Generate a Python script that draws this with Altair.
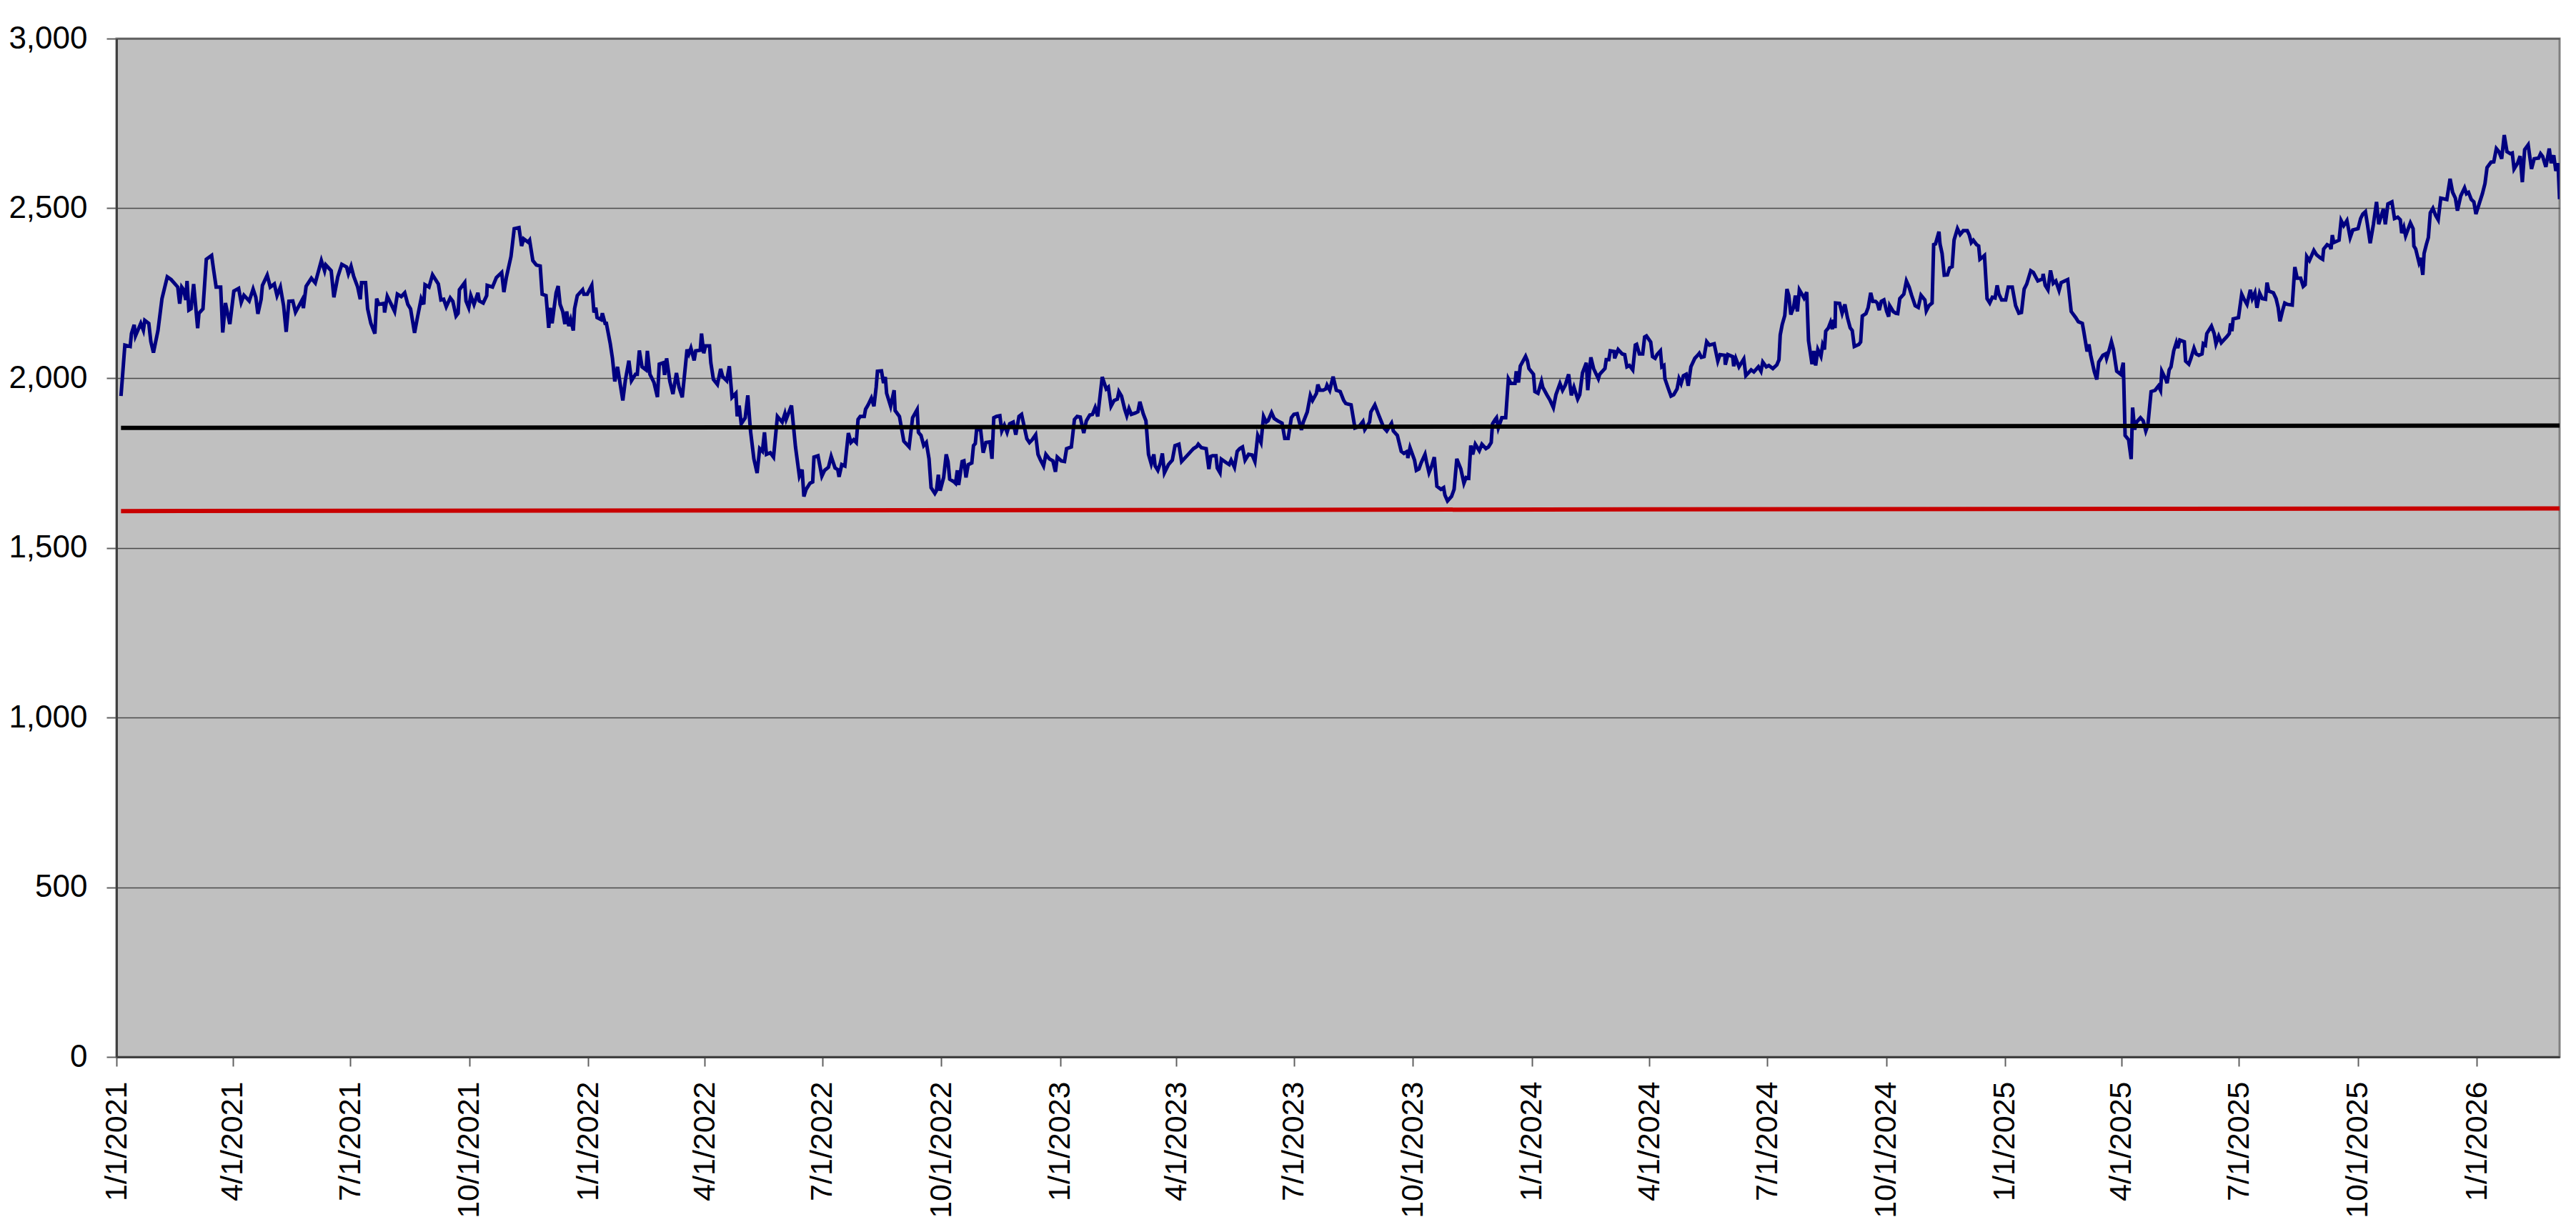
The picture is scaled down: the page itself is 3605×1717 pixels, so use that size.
import altair as alt
import pandas as pd

# (day offset from 2021-01-01, value), in six stretches
seg1 = [(3.5,1947),(6.5,2097),(10.6,2093),(11.6,2131),(13.7,2157),(14.7,2124),(18.8,2161),(20.8,2141),
        (21.9,2170),(25,2161),(26.6,2107),(28.6,2075),(32.1,2140),(35.2,2234),(39.3,2298),(42.3,2290),
        (47.4,2268),(48.9,2219),(50.5,2268),(52,2260),(53.6,2230),(54.6,2286),(56,2200),(57.7,2204),
        (59.7,2277),(62.8,2147),(63.8,2191),(66.9,2204),(69.5,2350),(73.6,2361),(75.1,2320),(77.1,2268),
        (80.6,2268),(82.2,2134),(84.3,2221),(87.7,2159),(90.8,2256),(94.5,2264),(96.5,2223),(98.6,2244),
        (102.7,2227),(105.7,2262),(107.8,2238),(109.4,2189),(111.9,2232),(112.9,2273),(116.6,2303),
        (119,2268),(122.1,2277),(124.2,2243),(126.8,2268),(129.3,2213),(131.3,2136),(133.4,2226),
        (136.4,2227),(138.5,2194),(143.6,2230),(144.6,2206),(146.7,2270),(150.8,2294),(153.8,2280),
        (158.5,2346),(161,2316),(162,2333),(166.1,2316),(168.2,2238),(171.2,2298),(174.3,2335),
        (178,2327),(179.4,2307),(181.5,2329),(183.5,2300),(186.6,2268),(188.6,2232),(189.6,2281),
        (192.7,2281),(194.3,2204),(196.8,2161),(199.9,2131),(201.3,2234),(202.9,2217),(207,2220),
        (207.4,2193),(209.5,2241),(212.1,2221),(215.2,2196),(217.3,2247),(220.3,2240),(223,2251),
        (225.4,2217),(227.5,2204),(230.6,2133),(232.6,2174),(235.7,2234),(237.7,2217),(238.7,2275),
        (241.8,2268),(244.5,2304),(249,2277),(251,2230),(253.1,2232),(255.1,2210),(258.2,2236),
        (260.2,2226),(262.7,2183),(264.3,2191),(265.3,2260),(269.4,2281),(270.4,2227),(272.5,2207),
        (274.1,2243),(276.6,2217),(279.6,2251),(280.7,2227),(283.7,2221),(286.4,2243),(286.8,2273),
        (290.9,2268),(293.9,2296),(298,2311),(299.7,2253),(301.7,2298),(305.2,2358),(307.7,2440),
        (311.4,2443),(313.4,2389),(315,2410),(318.5,2400)]

seg2 = [(319.6,2406),(322.1,2346),(324.8,2333),(327.8,2330),(329.3,2247),(332.3,2243),(334.4,2148),
        (335.6,2207),(337,2161),(340.1,2251),(341.7,2271),(343.2,2217),(345.2,2196),(346.9,2159),
        (348.3,2196),(349.9,2153),(351.4,2172),(353.4,2140),(354.4,2204),(356.5,2243),(360.6,2260),
        (361.6,2247),(364.2,2247),(367.7,2273),(369.4,2193),(370.8,2207),(371.8,2178),(374.9,2172),
        (375.9,2191),(378,2161),(379,2161),(382,2101),(383.7,2058),(385.5,1990),(387.6,2033),
        (389.2,1994),(391.7,1934),(393.7,1994),(396.4,2051),(398.4,1992),(401.5,2011),(402.9,2011),
        (404.5,2081),(406.6,2033),(409.7,2024),(410.7,2080),(412.7,2011),(415.8,1987),(418.5,1944),
        (419.9,2041),(423,2045),(424,2009),(425.6,2058),(428.1,1990),(430.5,1953),(433.2,2015),
        (435.2,1973),(437.7,1943),(441.4,2084),(442.8,2071),(444.4,2088),(446.9,2052),(448.1,2080),
        (451.6,2082),(452.6,2131),(454.3,2073),(455.7,2095),(458.8,2095),(459.8,2045),(461.8,1996),
        (464.9,1981),(467.4,2027),(469,2004),(472.1,1992),(474.1,2035),(476.2,1943),(479.2,1955),
        (480.2,1887),(481.7,1919),(483.3,1865),(486.4,1883),(488.4,1949),(490.5,1844),(493.1,1762),
        (495.6,1720),(497.6,1792),(499.7,1784),(501.3,1840),(502.8,1775),(505.8,1780),(508.3,1767),
        (511.3,1887),(515,1870),(517.1,1895),(518.1,1878),(522.2,1919),(525.3,1797),(528.3,1711),
        (530.4,1730),(531.8,1651),(533.5,1672),(536.5,1690),(538.6,1694),(539.6,1767),(542.7,1771),
        (545.7,1711),(547.8,1728),(550.8,1737),(552.9,1769),(555.9,1735),(558,1730),(559,1709),
        (561.1,1745),(563.5,1741),(566.2,1838),(568.2,1810),(570.3,1818),(572.3,1810),(573.7,1878),
        (575.4,1887),(578.5,1887),(579.5,1908),(581.5,1921),(584,1941),(586,1917),(587.7,1973),
        (588.7,2020),(591.8,2021),(593.4,1985),(594.8,2003),(595.8,1955),(598.9,1917),(601.6,1964),
        (602.4,1904),(605.7,1887),(609.1,1814),(613.2,1797),(615.9,1883),(619.4,1907),(620.4,1840),
        (622.4,1831),(624.5,1801),(626.5,1810),(628.6,1762),(630.2,1677),(633.1,1660),(634.3,1668)]

seg3 = [(635.8,1715),(637.2,1668),(639.9,1707),(641.9,1775),(643.3,1754),(644.6,1702),(648,1694),
        (649.1,1690),(650.5,1728),(651.5,1685),(654.2,1754),(655.6,1756),(657.2,1707),(658.9,1745),
        (661.7,1750),(663,1801),(664.4,1807),(665.4,1848),(668.5,1848),(670.5,1780),(672.6,1810),
        (675.7,1812),(677.3,1762),(678.7,1883),(680.8,1887),(683.4,1889),(684.9,1844),(686.9,1861),
        (689,1840),(691,1865),(693.7,1870),(695.7,1833),(698.2,1887),(700.2,1893),(704.3,1821),
        (706.3,1810),(708.4,1818),(711.1,1833),(712.9,1775),(714.9,1758),(717.2,1741),(719,1775),
        (721.7,1762),(724.4,1756),(726.4,1724),(727.8,1767),(730.9,1756),(733.4,1754),(735,1792),
        (738.7,1797),(741.1,1878),(743.2,1887),(745.6,1885),(748.3,1838),(750.3,1874),(753,1891),
        (755,1893),(757.1,1913),(759.1,1887),(762.6,2003),(765.7,1968),(767.3,1973),(769.4,1917),
        (771.8,1934),(774.3,1938),(775.5,1960),(777.5,1947),(780,1908),(781.6,1889),(783.3,1910),
        (785.1,1893),(788.2,1897),(790.2,1901),(791.7,1930),(794.3,1895),(796.4,1874),(798.4,1775),
        (800.5,1747),(802.5,1775),(803.5,1741),(805.6,1728),(807.6,1750),(809.1,1778),(810.7,1721),
        (813.8,1745),(816.8,1758),(818.9,1801),(821.9,1805),(824,1754),(829.1,1775),(831.2,1784),
        (833.2,1792),(835.7,1798),(836.9,1805),(839.3,1795),(843,1792),(845.1,1732),(846.5,1769),
        (847.9,1771),(850.6,1771),(851.6,1735),(853.7,1721),(854.7,1761),(858.8,1750),(860.8,1745),
        (862.3,1758),(864.9,1737),(867,1784),(869,1792),(871.1,1797),(873.1,1758),(875.8,1775),
        (878.6,1773),(880.7,1754),(882.9,1831),(885.4,1810),(887.4,1887),(889.5,1870),(890.9,1874),
        (893.6,1898),(895.6,1881),(898.3,1874),(901.7,1867),(903.8,1822),(906.4,1822),(908.9,1883),
        (910.9,1893),(913.4,1895),(916.7,1847),(918.1,1870),(921.2,1900),(923.6,1949),(925.3,1934),
        (928.3,1955),(929.4,1981),(931,1964),(933.5,1964),(935.5,1968),(936.5,1979),(938.6,1964),
        (941.2,2004),(943.7,1964),(946.7,1960),(949.4,1934)]

seg4 = [(951,1925),(955.1,1921),(958.1,1853),(961.2,1857),(964.3,1872),(965.7,1848),(969.4,1870),
        (970.4,1900),(973.5,1921),(976.5,1891),(979.6,1861),(980.6,1853),(982.7,1844),(986.4,1867),
        (987.8,1844),(990.9,1831),(993.9,1784),(996,1778),(998.6,1784),(999,1764),(1000.7,1795),
        (1004.2,1758),(1005.6,1728),(1007.6,1732),(1009.3,1750),(1012.3,1775),(1013.4,1754),
        (1015.4,1721),(1017.5,1741),(1019.5,1767),(1021.5,1681),(1024.6,1672),(1026.7,1677),
        (1027.7,1655),(1029.7,1638),(1032.8,1651),(1034.8,1672),(1036.9,1762),(1040,1732),
        (1042.4,1690),(1044.1,1707),(1046.1,1705),(1047.7,1801),(1049.2,1775),(1051.2,1805),
        (1054.3,1786),(1056.3,1805),(1059.4,1792),(1061.4,1797),(1063.5,1810),(1064.5,1865),
        (1066.6,1878),(1067.6,1883),(1069,1853),(1071.7,1883),(1074.7,1883),(1076.8,1998),
        (1078.8,1984),(1081.9,1984),(1082.9,2020),(1084.6,1987),(1086,2035),(1090.1,2064),
        (1091.5,2051),(1092.7,2028),(1096.2,2011),(1097.3,1960),(1099.7,1955),(1102.4,1990),
        (1103.4,1973),(1106.5,1951),(1109.1,1934),(1111.6,1913),(1113.6,1951),(1116.7,1984),
        (1118.7,1964),(1120.8,1979),(1123.4,2011),(1125.5,1949),(1127.5,1973),(1130.4,1938),
        (1132,1951),(1134.1,2015),(1137.1,2045),(1138.2,1964),(1140.6,2061),(1142.7,2028),
        (1146.4,1998),(1147.4,2011),(1151.5,2028),(1152.5,2054),(1154.5,2054),(1155.6,2080),
        (1158.6,2078),(1159,2058),(1161.7,2084),(1164.8,2071),(1166.8,2069),(1168.5,2033),
        (1170.5,2037),(1173,2024),(1175,2097),(1176,2099),(1178.1,2071),(1180.7,2071),(1182.2,2121),
        (1183.6,2124),(1186.9,2106),(1188.3,2063),(1190.3,2058),(1191.8,2069),(1194.4,2080),
        (1195.5,2033),(1197.1,2037),(1197.9,1998),(1200.6,1968),(1202.6,1947),(1204.7,1951),
        (1207.3,1968),(1208.8,1998),(1210.4,1984),(1212.2,2007),(1214.3,2011),(1215.9,1977),
        (1218,2033),(1221,2058),(1223.7,2069),(1224.5,2073),(1226.1,2061),(1228.2,2063),
        (1230.2,2107),(1232.3,2097),(1236,2101),(1238.8,2050),(1240.5,2069),(1244.2,2067),
        (1244.6,2039),(1246.6,2069),(1250.3,2063),(1251.1,2035),(1252.7,2058),(1255.2,2033),
        (1258.9,2056),(1260.5,2007),(1264.6,2024)]

seg5 = [(1266.7,2018),(1270.2,2033),(1272.2,2020),(1273.6,2047),(1276.3,2033),(1278.3,2037),
        (1281.4,2028),(1284.5,2039),(1286.1,2054),(1287.1,2127),(1288.6,2157),(1290.6,2184),
        (1292.3,2262),(1293.7,2243),(1295.3,2187),(1297.4,2208),(1298.8,2243),(1300.4,2196),
        (1301.9,2260),(1303.9,2247),(1305.5,2236),(1307.6,2253),(1309,2110),(1311.7,2041),
        (1313.1,2080),(1314.5,2037),(1316.2,2084),(1318.6,2064),(1319.9,2097),(1321.3,2084),
        (1322.3,2138),(1324.4,2148),(1326,2164),(1327.4,2144),(1328.5,2172),(1329.5,2147),
        (1329.9,2221),(1333,2220),(1335,2191),(1337.1,2217),(1339.1,2178),(1341.2,2148),
        (1342.8,2140),(1344.4,2093),(1347.9,2099),(1349.3,2106),(1350.6,2183),(1353.4,2190),
        (1355.1,2207),(1357.1,2251),(1358.7,2226),(1360.8,2226),(1362.2,2221),(1363.7,2200),
        (1365.3,2226),(1367.3,2230),(1369.4,2197),(1371,2181),(1371.8,2213),(1374.5,2196),
        (1376.5,2191),(1378,2190),(1379.6,2234),(1382.7,2247),(1384.7,2286),(1386.8,2268),
        (1388.8,2243),(1391.5,2213),(1393.9,2208),(1396,2244),(1399,2230),(1400.1,2198),
        (1402.1,2213),(1404.6,2221),(1405.8,2393),(1407.2,2395),(1409.9,2431),(1410.7,2395),
        (1412.3,2367),(1414,2303),(1416.4,2304),(1418.1,2324),(1420.1,2328),(1421.6,2407),
        (1424.2,2440),(1426.3,2423),(1428.7,2434),(1431.8,2434),(1433.4,2421),(1434.9,2399),
        (1436.5,2406),(1439,2393),(1440.6,2389),(1441.6,2350),(1443,2354),(1445.1,2361),
        (1447.1,2234),(1449.2,2221),(1451.2,2238),(1453.3,2236),(1454.9,2273),(1456.3,2247),
        (1458.4,2230),(1461.5,2230),(1463.5,2268),(1466.6,2268),(1469.2,2213),(1471.7,2191),
        (1473.7,2193),(1475.8,2262),(1477.8,2277),(1480.9,2316),(1482.9,2311),(1486.4,2286),
        (1490.1,2292),(1490.5,2307),(1492.1,2273),(1494.2,2260),(1496.2,2317),(1498.3,2279),
        (1500.3,2286),(1502.8,2258),(1504.4,2281),(1509.5,2290),(1512.2,2196),(1515.7,2178),
        (1517.7,2166),(1520.8,2161),(1521.8,2140),(1524.5,2078),(1525.9,2099),(1527.3,2067),
        (1530,2020),(1532,1996),(1533.5,2047),(1536.7,2067),(1538.8,2071),(1539.6,2058),
        (1541.7,2084),(1543.3,2107),(1544.9,2084),(1547.4,2020),(1550.5,2011),(1552.5,2045),
        (1553.9,1831),(1556.6,1818),(1558.6,1761),(1559.7,1913),(1561.3,1848),(1562.7,1870),
        (1565.8,1883),(1567.9,1874),(1569.9,1844),(1571.5,1861),(1574,1960),(1577.1,1964),
        (1579.7,1977)]

seg6 = [(1581.3,1964),(1582.3,2020),(1585.4,1996),(1586.4,1985),(1588,2024),(1589.4,2033),
        (1591.5,2080),(1593.5,2104),(1594.6,2088),(1596.2,2112),(1599.7,2107),(1600.7,2050),
        (1603.2,2041),(1604.8,2058),(1607.2,2088),(1608.9,2071),(1610.9,2067),(1613.4,2071),
        (1614.4,2101),(1616,2097),(1617.1,2131),(1620.7,2153),(1622.8,2131),(1624.2,2101),
        (1626.3,2123),(1628.3,2104),(1629.7,2110),(1632.4,2121),(1634.5,2131),(1635.5,2161),
        (1636.5,2138),(1637.5,2174),(1641.6,2178),(1644.1,2247),(1645.7,2234),(1648.2,2217),
        (1650.8,2260),(1652.3,2234),(1654.3,2251),(1655.9,2207),(1658,2250),(1660,2234),
        (1662.5,2232),(1663.7,2281),(1665.1,2256),(1668.6,2251),(1670.7,2234),(1672.3,2208),
        (1673.7,2167),(1675.8,2200),(1677.4,2221),(1679.5,2217),(1683.2,2215),(1685.2,2327),
        (1687,2294),(1689.7,2294),(1691.7,2270),(1693.2,2275),(1694.4,2358),(1696.5,2346),
        (1699.9,2376),(1702,2363),(1705,2354),(1706.7,2350),(1707.5,2380),(1710.2,2393),
        (1712.2,2389),(1713.2,2380),(1714.2,2421),(1715.3,2399),(1719.4,2406),(1721,2464),
        (1723,2449),(1725.5,2464),(1728,2414),(1730,2436),(1734.1,2440),(1736.1,2470),
        (1737.8,2483),(1739.8,2490),(1741.5,2449),(1743.5,2397),(1746,2453),(1748.4,2519),
        (1750.1,2453),(1752.1,2479),(1753.7,2498),(1755.2,2453),(1757.2,2513),(1760.3,2519),
        (1762.3,2470),(1764.8,2474),(1766.8,2466),(1767.9,2427),(1769.5,2444),(1770.9,2419),
        (1774.6,2457),(1776.7,2440),(1777.3,2389),(1778.7,2380),(1781.2,2341),(1782.4,2354),
        (1784.2,2304),(1785.2,2367),(1786.9,2393),(1788.5,2414),(1790,2487),(1792,2500),
        (1794.1,2479),(1796.1,2466),(1798.1,2530),(1802.8,2526),(1805.3,2587),(1807.3,2547),
        (1809.4,2530),(1811,2493),(1813.5,2536),(1816.5,2560),(1818,2543),(1819.6,2547),
        (1821.7,2526),(1823.7,2519),(1825.3,2483),(1827.8,2513),(1830.3,2543),(1832.3,2573),
        (1833.9,2620),(1837,2636),(1839.1,2637),(1841.1,2676),(1843.1,2667),(1845.2,2646),
        (1847.2,2716),(1849.3,2667),(1851.9,2661),(1853.4,2663),(1854.8,2616),(1857.5,2633),
        (1859.5,2654),(1861.2,2577),(1863,2673),(1865.7,2687),(1868.3,2616),(1870.4,2646),
        (1873.8,2648),(1875.3,2661),(1876.9,2653),(1879.4,2622),(1882,2676),(1883.5,2633),
        (1885.5,2656),(1887.1,2610),(1888.8,2633),(1890,2527)]

# two straight reference lines: (day offset, value) at their two ends
black_line = [(3.5,1853),(1890,1860)]
red_line = [(3.5,1608),(1890,1616)]

y_ticks = [0, 500, 1000, 1500, 2000, 2500, 3000]
x_tick_dates = [(y, m) for y in range(2021, 2027) for m in (1, 4, 7, 10)][:21]

start = pd.Timestamp("2021-01-01")


def to_frame(pairs, name):
    days = [p[0] for p in pairs]
    vals = [p[1] for p in pairs]
    return pd.DataFrame({
        "date": start + pd.to_timedelta(days, unit="D"),
        "value": vals,
        "series": name,
    })


price = to_frame(seg1 + seg2 + seg3 + seg4 + seg5 + seg6, "price")
black = to_frame(black_line, "black")
red = to_frame(red_line, "red")

x_values = [alt.DateTime(year=y, month=m, date=1) for (y, m) in x_tick_dates]

x_enc = alt.X(
    "date:T",
    scale=alt.Scale(domain=[alt.DateTime(year=2021, month=1, date=1),
                            alt.DateTime(year=2026, month=3, date=6)]),
    axis=alt.Axis(
        values=x_values,
        format="%-m/%-d/%Y",
        labelAngle=-90,
        labelFontSize=43,
        labelPadding=21,
        labelLimit=0,
        tickSize=13,
        tickWidth=2,
        tickColor="#606060",
        domainColor="#404040",
        domainWidth=3,
        grid=False,
        labelFlush=False,
        labelOverlap=False,
        labelBound=False,
        title=None,
    ),
)

y_enc = alt.Y(
    "value:Q",
    scale=alt.Scale(domain=[0, 3000], nice=False, zero=True),
    axis=alt.Axis(
        values=y_ticks,
        format=",.0f",
        labelFontSize=44,
        labelPadding=27,
        labelLimit=0,
        tickSize=14,
        tickWidth=2,
        tickColor="#606060",
        domainColor="#404040",
        domainWidth=3,
        grid=True,
        gridColor="#4a4a4a",
        gridWidth=1.5,
        labelFlush=False,
        title=None,
    ),
)

price_line = alt.Chart(price).mark_line(color="#000080", strokeWidth=5, clip=True).encode(
    x=x_enc, y=y_enc
)
black_rule = alt.Chart(black).mark_line(color="#000000", strokeWidth=6, clip=True).encode(
    x="date:T", y="value:Q"
)
red_rule = alt.Chart(red).mark_line(color="#C80000", strokeWidth=6, clip=True).encode(
    x="date:T", y="value:Q"
)

chart = alt.layer(price_line, black_rule, red_rule).properties(
    width=3419,
    height=1425,
    autosize=alt.AutoSizeParams(type="none"),
    padding={"left": 155, "top": 46, "right": 15, "bottom": 230},
    background="#FFFFFF",
).configure_view(
    fill="#C0C0C0",
    stroke="#808080",
    strokeWidth=3,
).configure_axis(
    labelFont="Liberation Sans",
    labelColor="#000000",
)

chart.save("out.html", embed_options={"renderer": "svg", "actions": False})
